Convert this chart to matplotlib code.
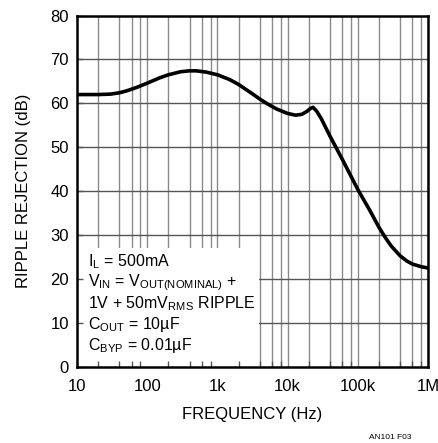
import matplotlib
matplotlib.use("Agg")
import matplotlib.pyplot as plt
from matplotlib.patches import Rectangle

plt.rcParams["font.family"] = ["Liberation Sans Narrow", "Liberation Sans", "DejaVu Sans"]

# ripple rejection curve
freq_hz = [10, 15, 20, 30, 40, 50, 70, 100, 150, 200, 300, 400, 500, 700,
           1000, 1500, 2000, 3000, 4000, 5000, 7000, 10000, 13000, 16000,
           19000, 21000, 23000, 26000, 30000, 40000, 60000, 100000, 150000,
           200000, 250000, 300000, 400000, 500000, 600000, 800000, 1000000]
rejection_db = [62.0, 62.0, 62.0, 62.1, 62.4, 62.8, 63.6, 64.6, 65.8, 66.5,
                67.2, 67.4, 67.4, 67.1, 66.5, 65.4, 64.3, 62.4, 61.0, 60.0,
                58.7, 57.7, 57.3, 57.5, 58.2, 58.8, 59.1, 58.2, 56.6, 52.6,
                47.3, 40.4, 35.5, 31.8, 29.3, 27.5, 25.3, 24.1, 23.4, 22.8, 22.5]

y_ticks = [0, 10, 20, 30, 40, 50, 60, 70, 80]
x_ticks = [10, 100, 1000, 10000, 100000, 1000000]
x_labels = ["10", "100", "1k", "10k", "100k", "1M"]
grid_mults = [2, 4, 6, 8, 10]

notes = [
    r"$\mathregular{I_L}$ = 500mA",
    r"$\mathregular{V_{IN}}$ = $\mathregular{V_{OUT(NOMINAL)}}$ +",
    r"1V + 50m$\mathregular{V_{RMS}}$ RIPPLE",
    r"$\mathregular{C_{OUT}}$ = 10µF",
    r"$\mathregular{C_{BYP}}$ = 0.01µF",
]

fig = plt.figure(figsize=(4.38, 4.43), dpi=100)
ax = fig.add_axes([0.176, 0.172, 0.801, 0.793])
ax.set_xscale("log")
ax.set_xlim(10, 1e6)
ax.set_ylim(0, 80)

# grid drawn by hand so the note box can blank part of it
grid_x = [d * m for d in x_ticks[:-1] for m in grid_mults]
ax.vlines(grid_x, 0, 80, colors="#8a8a8a", lw=1.0, zorder=1)
ax.hlines(y_ticks[1:-1], 10, 1e6, colors="#555555", lw=1.0, zorder=1)

ax.add_patch(Rectangle((0, 0), 0.518, 0.338, transform=ax.transAxes,
                       facecolor="white", edgecolor="none", zorder=1.5))

ax.plot(freq_hz, rejection_db, color="black", lw=2.6, zorder=3,
        solid_capstyle="round")

ax.set_axisbelow(False)
ax.set_yticks(y_ticks)
ax.set_xticks(x_ticks)
ax.set_xticklabels(x_labels)
ax.set_xticks(grid_x, minor=True)
ax.xaxis.set_minor_formatter(plt.NullFormatter())
ax.tick_params(axis="both", which="both", direction="in", length=4,
               width=1, color="#555555", labelsize=12, pad=6)
ax.tick_params(axis="x", which="major", length=0, pad=9)
for s in ax.spines.values():
    s.set_linewidth(1.8)
    s.set_zorder(4)

ax.set_xlabel("FREQUENCY (Hz)", fontsize=12, labelpad=9)
ax.set_ylabel("RIPPLE REJECTION (dB)", fontsize=12, labelpad=14)

for i, t in enumerate(notes):
    ax.text(0.03, 0.298 - i * 0.059, t, transform=ax.transAxes, fontsize=11.5,
            va="center", ha="left", zorder=5)

fig.text(0.94, 0.005, "AN101 F03", fontsize=6, ha="right", va="bottom")

fig.savefig("out.png", dpi=100)
